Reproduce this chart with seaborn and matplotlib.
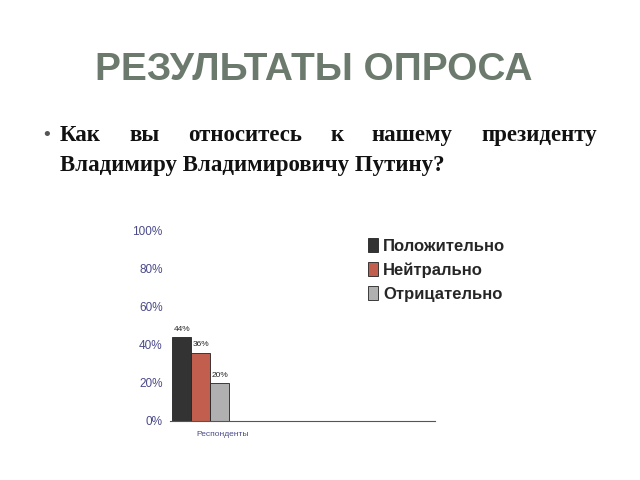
import matplotlib
matplotlib.use("Agg")
import matplotlib.pyplot as plt
import seaborn as sns
import pandas as pd

categories = ["Респонденты"]
series = ["Положительно", "Нейтрально", "Отрицательно"]
values = [44, 36, 20]
colors = ["#333333", "#d4503a", "#b0b0b0"]
yticks = [0, 20, 40, 60, 80, 100]

df = pd.DataFrame({"cat": categories * 3, "series": series, "value": values})

sns.set_style("white")
plt.rcParams['font.family'] = ['Liberation Sans', 'DejaVu Sans']
fig = plt.figure(figsize=(6.4, 4.8), dpi=100)
fig.text(0.49, 0.855, "РЕЗУЛЬТАТЫ ОПРОСА", ha="center", va="center", fontsize=28,
         fontweight="bold", color="#6b7a6c")
fig.text(0.068, 0.717, "•", fontsize=14, color="#555555", va="center")
line1 = ["Как", "вы", "относитесь", "к", "нашему", "президенту"]
x0, x1 = 0.093, 0.933
ys = 0.717
# place line 1 justified: words spread across width
r = fig.canvas.get_renderer()
ts = [fig.text(0, ys, w, fontsize=16.5, fontweight="bold", family="Liberation Serif",
               color="#111111", va="center") for w in line1]
widths = [t.get_window_extent(r).width / fig.bbox.width for t in ts]
gap = (x1 - x0 - sum(widths)) / (len(line1) - 1)
x = x0
for t, w in zip(ts, widths):
    t.set_x(x)
    x += w + gap
fig.text(x0, 0.655, "Владимиру Владимировичу Путину?", fontsize=16.5,
         fontweight="bold", family="Liberation Serif", color="#111111", va="center")

ax = fig.add_axes([0.266, 0.123, 0.414, 0.396])
sns.barplot(data=df, x="cat", y="value", hue="series", palette=colors, ax=ax,
            width=0.8, edgecolor="#222222", linewidth=0.6, legend=True)
for c in ax.containers:
    ax.bar_label(c, labels=[f"{v:.0f}%" for v in c.datavalues], fontsize=6, padding=3)
ax.set_xlim(-0.43, 3.29)
ax.set_ylim(0, 100)
ax.set_yticks(yticks)
ax.set_yticklabels([f"{t}%" for t in yticks], color="#4a4a8a", fontsize=8.5)
ax.tick_params(axis="y", length=2, color="#555555")
ax.set_xticks([0.3])
ax.set_xticklabels(categories, color="#4a4a8a", fontsize=6)
ax.set_xlabel("")
ax.set_ylabel("")
for s in ["top", "right", "left"]:
    ax.spines[s].set_visible(False)
ax.spines["bottom"].set_color("#555555")
leg = ax.legend(loc="upper left", bbox_to_anchor=(0.69, 1.04), frameon=False,
                prop={"size": 12, "weight": "bold"}, handlelength=0.6, handleheight=0.9,
                handletextpad=0.3, labelspacing=0.5)
fig.savefig("out.png", dpi=100)
